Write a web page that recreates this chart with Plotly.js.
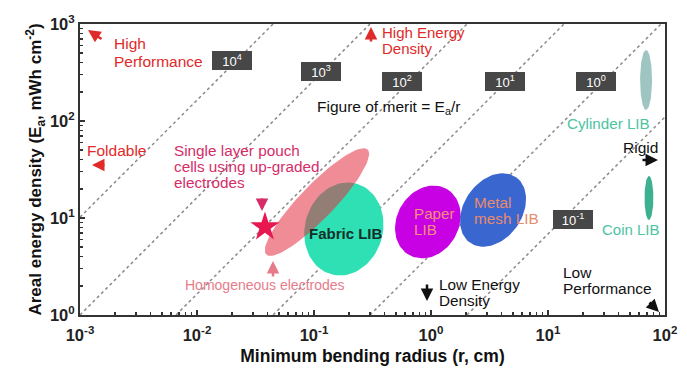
<!DOCTYPE html>
<html>
<head>
<meta charset="utf-8">
<script src="https://cdn.plot.ly/plotly-3.0.1.min.js"></script>
<style>html,body{margin:0;padding:0;background:#fff;}#chart{width:687px;height:380px;}</style>
</head>
<body>
<div id="chart"></div>
<script>
// ---- Data ----
// Figure-of-merit guide lines (E_a / r), endpoints in data units
var fomLabels = ['10<sup>4</sup>', '10<sup>3</sup>', '10<sup>2</sup>', '10<sup>1</sup>', '10<sup>0</sup>', '10<sup>-1</sup>'];
var lineR0 = [0.001, 0.001, 0.00662, 0.0447, 0.301, 2.03];
var lineE0 = [10.2, 1, 1, 1, 1, 1];
var lineR1 = [0.0447, 0.301, 2.03, 13.7, 92.5, 100];
var lineE1 = [1000, 1000, 1000, 1000, 1000, 110];

// Battery categories as ellipses: centre (r, E) and two half-diameter vectors in decades
var ellNames = ['Fabric LIB', 'Single layer pouch', 'Paper LIB', 'Metal mesh LIB', 'Cylinder LIB', 'Coin LIB'];
var ellR  = [0.180, 0.106, 0.94, 3.39, 68.9, 72.9];
var ellE  = [7.7, 14.6, 9.1, 12.1, 265, 16.1];
var ellAx = [0.111, 0.433, 0.162, 0.196, 0.000, 0.000];
var ellAy = [0.466, 0.541, 0.339, 0.338, 0.309, 0.227];
var ellBx = [0.320, -0.105, -0.229, -0.203, 0.051, 0.038];
var ellBy = [-0.111, 0.123, 0.160, 0.171, 0.000, 0.000];
var ellColors = ['#2fe0b5', 'rgba(228,46,64,0.55)', '#c800e4', '#3a66cf', '#9ec5c2', '#3db08f'];

// Homogeneous-electrode cell (star)
var starR = [0.0381];
var starE = [8.08];

// Axis ticks
var xTickVals = [0.001, 0.01, 0.1, 1, 10, 100];
var xTickText = ['10<sup>-3</sup>', '10<sup>-2</sup>', '10<sup>-1</sup>', '10<sup>0</sup>', '10<sup>1</sup>', '10<sup>2</sup>'];
var yTickVals = [1, 10, 100, 1000];
var yTickText = ['10<sup>0</sup>', '10<sup>1</sup>', '10<sup>2</sup>', '10<sup>3</sup>'];

// ---- Build traces ----
var traces = [];
for (var i = 0; i < fomLabels.length; i++) {
  traces.push({
    type: 'scatter', mode: 'lines',
    x: [lineR0[i], lineR1[i]], y: [lineE0[i], lineE1[i]],
    line: {color: '#8a8a8a', width: 1.5, dash: 'dot'},
    hoverinfo: 'skip'
  });
}
for (var k = 0; k < ellNames.length; k++) {
  var xs = [], ys = [];
  var lx = Math.log10(ellR[k]), ly = Math.log10(ellE[k]);
  for (var s = 0; s <= 90; s++) {
    var t = 2 * Math.PI * s / 90;
    xs.push(Math.pow(10, lx + ellAx[k] * Math.cos(t) + ellBx[k] * Math.sin(t)));
    ys.push(Math.pow(10, ly + ellAy[k] * Math.cos(t) + ellBy[k] * Math.sin(t)));
  }
  traces.push({
    type: 'scatter', mode: 'lines', x: xs, y: ys, name: ellNames[k],
    fill: 'toself', fillcolor: ellColors[k], line: {width: 0, color: ellColors[k]},
    hoverinfo: 'name'
  });
}
traces.push({
  type: 'scatter', mode: 'markers', x: starR, y: starE,
  marker: {symbol: 'star', size: 22, color: '#e8174f', line: {width: 0}},
  hoverinfo: 'skip'
});

// minor ticks (2..9 within each decade)
function minorVals(a, b) {
  var out = [];
  for (var p = a; p < b; p++) for (var m = 2; m <= 9; m++) out.push(m * Math.pow(10, p));
  return out;
}

// ---- Layout helpers (pixel -> paper) ----
var L = 80, R = 665, T = 24, B = 315;
function px(xp) { return (xp - L) / (R - L); }
function py(yp) { return (B - yp) / (B - T); }
var FONT = 'Liberation Sans, Arial, sans-serif';
var ann = [];
// text lines: each line placed on its own
function txt(x, ys, lines, color, size, anchor, bold) {
  for (var j = 0; j < lines.length; j++) {
    ann.push({xref: 'paper', yref: 'paper', x: px(x), y: py(ys[j]), text: lines[j], showarrow: false,
      xanchor: anchor || 'center', yanchor: 'middle', align: 'left',
      font: {family: FONT, size: size, color: color, weight: bold ? 'bold' : 'normal'}});
  }
}
function arrow(hx, hy, tx, ty, color) {
  ann.push({xref: 'paper', yref: 'paper', x: px(hx), y: py(hy), ax: tx - hx, ay: ty - hy,
    text: '', showarrow: true, arrowhead: 2, arrowsize: 1, arrowwidth: 2.5, arrowcolor: color});
}

var boxPos = [[232, 60], [321, 71], [402, 81], [505, 81], [596, 81], [573, 219]];
for (var b = 0; b < fomLabels.length; b++) {
  ann.push({xref: 'paper', yref: 'paper', x: px(boxPos[b][0]), y: py(boxPos[b][1]),
    text: fomLabels[b], showarrow: false, xanchor: 'center', yanchor: 'middle',
    bgcolor: '#474747', bordercolor: '#474747', borderpad: 2, width: 34, height: 13,
    font: {family: FONT, size: 13, color: '#ffffff'}});
}
var RED = '#e02a2a', CRIM = '#d52d68', PINK = '#e67c8a';
txt(112, [44, 61], ['High', 'Performance'], RED, 15.5, 'left');
txt(380, [32, 48], ['High Energy', 'Density'], RED, 15, 'left');
txt(388, [107], ['Figure of merit = E<sub>a</sub>/r'], '#111', 15.5, 'center');
txt(85, [150], ['Foldable'], RED, 15.5, 'left');
txt(172, [150, 166, 182], ['Single layer pouch', 'cells using up-graded', 'electrodes'], CRIM, 15.3, 'left');
txt(346, [233], ['Fabric LIB'], '#11302a', 15, 'center', true);
txt(412, [213, 230], ['Paper', 'LIB'], '#f4907a', 15.2, 'left');
txt(472, [202, 218], ['Metal', 'mesh LIB'], '#e88a6c', 15.3, 'left');
txt(265, [285], ['Homogeneous electrodes'], PINK, 14, 'center');
txt(437, [284, 300], ['Low Energy', 'Density'], '#111', 15.3, 'left');
txt(561, [272, 288], ['Low', 'Performance'], '#111', 15.5, 'left');
txt(608, [123], ['Cylinder LIB'], '#4cc4a2', 15.2, 'center');
txt(631, [230], ['Coin LIB'], '#4cc4a2', 15, 'center');
txt(640, [147], ['Rigid'], '#111', 15.5, 'center');

arrow(88, 30, 103, 40, RED);
arrow(371, 27, 371, 43, RED);
arrow(92, 165, 106, 165, RED);
arrow(262, 211, 262, 197, CRIM);
arrow(273, 261, 273, 278, PINK);
arrow(427, 301, 427, 283, '#111');
arrow(658, 160, 641, 160, '#111');
arrow(659, 312, 648, 301, '#111');

var axCommon = {
  type: 'log', tickmode: 'array', ticks: 'inside', ticklen: 5, tickwidth: 1.5, tickcolor: '#333',
  showline: true, linewidth: 2, linecolor: '#333', mirror: true, showgrid: false, zeroline: false,
  tickfont: {family: FONT, size: 16.5, color: '#222', weight: 'bold'}
};
var layout = {
  width: 687, height: 380,
  margin: {l: L, r: 687 - R, t: T, b: 380 - B},
  paper_bgcolor: '#ffffff', plot_bgcolor: '#ffffff', showlegend: false,
  xaxis: Object.assign({}, axCommon, {
    range: [-3, 2], tickvals: xTickVals, ticktext: xTickText, ticklabelstandoff: 4,
    minor: {tickmode: 'array', tickvals: minorVals(-3, 2), ticks: 'inside', ticklen: 3, tickcolor: '#333', showgrid: false},
    title: {text: 'Minimum bending radius (r, cm)', font: {family: FONT, size: 17.5, color: '#111', weight: 'bold'}, standoff: 7}
  }),
  yaxis: Object.assign({}, axCommon, {
    range: [0, 3], tickvals: yTickVals, ticktext: yTickText,
    minor: {tickmode: 'array', tickvals: minorVals(0, 3), ticks: 'inside', ticklen: 3, tickcolor: '#333', showgrid: false},
    title: {text: 'Areal energy density (E<sub>a</sub>, mWh cm<sup>-2</sup>)', font: {family: FONT, size: 17, color: '#111', weight: 'bold'}, standoff: 4}
  }),
  annotations: ann
};
Plotly.newPlot('chart', traces, layout, {staticPlot: true, displayModeBar: false});
</script>
</body>
</html>
